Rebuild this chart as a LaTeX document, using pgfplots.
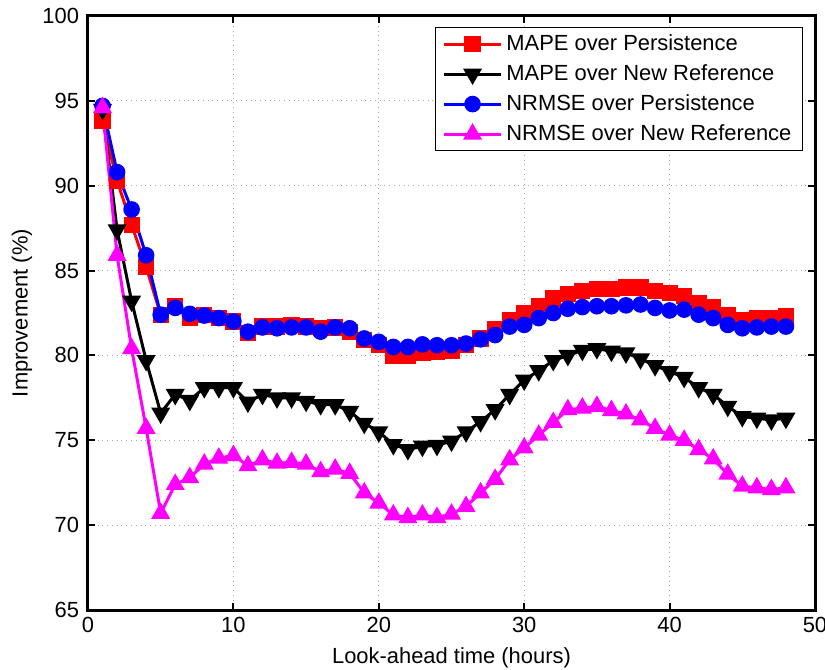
\documentclass[border=0pt]{standalone}
\usepackage{pgfplots}
\pgfplotsset{compat=1.18}
\usepackage{pgfplotstable}
\usepackage{fontspec}
\setmainfont{Liberation Sans}
\definecolor{mymag}{RGB}{255,0,255}
\definecolor{myred}{RGB}{255,0,0}
\definecolor{myblue}{RGB}{0,0,255}
\pgfplotstableread{
x red black blue mag
1 93.8 94.5 94.7 94.6
2 90.3 87.4 90.8 85.9
3 87.7 83.2 88.6 80.4
4 85.2 79.7 85.9 75.7
5 82.4 76.6 82.4 70.7
6 82.9 77.7 82.8 72.4
7 82.2 77.35 82.45 72.8
8 82.4 78.1 82.35 73.6
9 82.2 78.1 82.2 73.95
10 82.0 78.1 82.0 74.1
11 81.3 77.25 81.4 73.5
12 81.7 77.7 81.65 73.85
13 81.7 77.5 81.6 73.65
14 81.8 77.5 81.65 73.7
15 81.7 77.3 81.65 73.6
16 81.6 77.1 81.4 73.15
17 81.65 77.1 81.65 73.3
18 81.4 76.7 81.6 73.05
19 80.9 76.0 81.0 71.9
20 80.6 75.5 80.8 71.3
21 80.0 74.75 80.5 70.6
22 79.95 74.45 80.5 70.45
23 80.15 74.65 80.65 70.6
24 80.2 74.7 80.6 70.45
25 80.25 74.95 80.6 70.65
26 80.6 75.5 80.7 71.1
27 81.0 76.1 80.95 71.9
28 81.55 76.8 81.2 72.7
29 82.1 77.7 81.7 73.85
30 82.5 78.55 81.8 74.55
31 82.9 79.1 82.2 75.3
32 83.35 79.7 82.5 76.05
33 83.6 80.0 82.75 76.8
34 83.8 80.3 82.85 76.9
35 83.9 80.4 82.9 77.0
36 83.9 80.25 82.9 76.75
37 84.0 80.15 82.95 76.55
38 84.0 79.8 83.0 76.2
39 83.8 79.4 82.8 75.7
40 83.7 79.05 82.65 75.3
41 83.5 78.7 82.7 75.0
42 83.1 78.1 82.4 74.45
43 82.85 77.7 82.2 73.9
44 82.4 77.0 81.8 73.0
45 82.1 76.4 81.6 72.3
46 82.2 76.3 81.65 72.2
47 82.2 76.2 81.7 72.1
48 82.3 76.3 81.7 72.2
}\data
\begin{document}
\begin{tikzpicture}
\useasboundingbox (-44bp,-30bp) rectangle (368.5bp,305bp);
\begin{axis}[
  at={(0,0)}, anchor=south west,
  scale only axis, width=363.5bp, height=297bp,
  xmin=0, xmax=50, ymin=65, ymax=100,
  xtick={0,10,...,50}, ytick={65,70,...,100},
  tick align=inside, major tick length=3.5bp,
  tick style={black, line width=1bp},
  axis line style={line width=1.5bp},
  grid=major, grid style={gray!70, dotted, line width=0.5bp},
  /pgf/number format/assume math mode=true,
  tick label style={font=\fontsize{11}{13}\selectfont},
  yticklabel style={xshift=-1bp},
  label style={font=\fontsize{11}{13}\selectfont},
  xlabel={Look-ahead time (hours)},
  ylabel={Improvement (\%)},
  xlabel style={at={(axis description cs:0.5,-0.0808)}, anchor=center},
  ylabel style={at={(axis description cs:-0.0908,0.5)}, anchor=center},
  legend style={at={(axis description cs:0.9835,0.9815)}, anchor=north east,
    font=\fontsize{11}{13}\selectfont, draw=black, line width=0.6bp,
    inner xsep=3.5bp, inner ysep=1.5bp, row sep=1.6bp, cells={anchor=west}},
  legend image code/.code={
    \draw[mark repeat=2, mark phase=2, #1] plot coordinates {(0cm,0cm) (0.5cm,0cm) (1.0cm,0cm)};},
  every axis plot/.append style={line width=1.5bp},
]
\addplot[myred, mark=square*, mark size=3.3bp, mark options={solid}] table[x=x,y=red] {\data};
\addlegendentry{MAPE over Persistence}
\addplot[black, mark=triangle*, mark size=4bp, mark options={rotate=180}] table[x=x,y=black] {\data};
\addlegendentry{MAPE over New Reference}
\addplot[myblue, mark=*, mark size=3.4bp] table[x=x,y=blue] {\data};
\addlegendentry{NRMSE over Persistence}
\addplot[mymag, mark=triangle*, mark size=4bp] table[x=x,y=mag] {\data};
\addlegendentry{NRMSE over New Reference}
\end{axis}
\end{tikzpicture}
\end{document}
